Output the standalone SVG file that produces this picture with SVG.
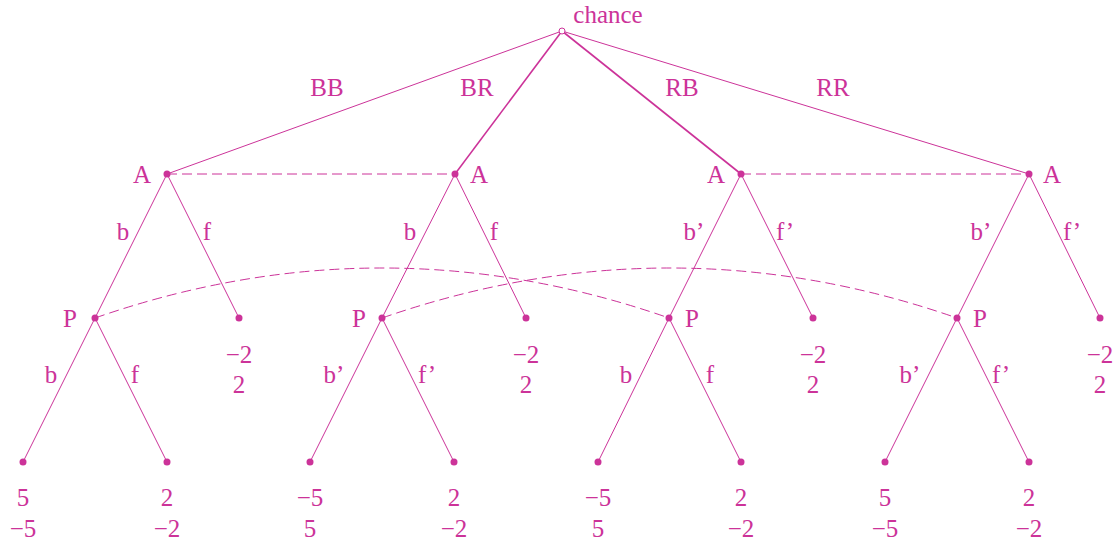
<svg xmlns="http://www.w3.org/2000/svg" width="1117" height="544" viewBox="0 0 1117 544">
<style>
.e{stroke:#cc3399;stroke-width:1;fill:none}
.t{stroke-width:1.6}
.d{stroke:#cc3399;stroke-width:1;fill:none;stroke-dasharray:10,5}
.n{fill:#cc3399}
text{font-family:"Liberation Serif","DejaVu Serif",serif;font-size:25px;fill:#cc3399;text-anchor:middle}
</style>
<rect width="1117" height="544" fill="#fff"/>
<g id="connectors">
<line class="e" x1="562" y1="31" x2="167" y2="174"/>
<line class="e t" x1="562" y1="31" x2="455" y2="174"/>
<line class="e t" x1="562" y1="31" x2="741" y2="174"/>
<line class="e" x1="562" y1="31" x2="1029" y2="174"/>
<line class="d" x1="167" y1="174" x2="455" y2="174"/>
<line class="d" x1="741" y1="174" x2="1029" y2="174"/>
<line class="e" x1="167" y1="174" x2="95" y2="318"/>
<line class="e" x1="167" y1="174" x2="239" y2="318"/>
<line class="e" x1="455" y1="174" x2="382" y2="318"/>
<line class="e" x1="455" y1="174" x2="526" y2="318"/>
<line class="e" x1="741" y1="174" x2="669" y2="318"/>
<line class="e" x1="741" y1="174" x2="813" y2="318"/>
<line class="e" x1="1029" y1="174" x2="957" y2="318"/>
<line class="e" x1="1029" y1="174" x2="1100" y2="318"/>
<path class="d" d="M95,318 Q382,218 669,318"/>
<path class="d" d="M382,318 Q670,218 957,318"/>
<line class="e" x1="95" y1="318" x2="23" y2="462"/>
<line class="e" x1="95" y1="318" x2="167" y2="462"/>
<line class="e" x1="382" y1="318" x2="310" y2="462"/>
<line class="e" x1="382" y1="318" x2="454" y2="462"/>
<line class="e" x1="669" y1="318" x2="598" y2="462"/>
<line class="e" x1="669" y1="318" x2="741" y2="462"/>
<line class="e" x1="957" y1="318" x2="885" y2="462"/>
<line class="e" x1="957" y1="318" x2="1029" y2="462"/>
<text x="327" y="96">BB</text>
<text x="477" y="96">BR</text>
<text x="682" y="96">RB</text>
<text x="833" y="96">RR</text>
<text x="123" y="240">b</text><text x="207" y="240">f</text>
<text x="410" y="240">b</text><text x="494" y="240">f</text>
<text x="694" y="240">b’</text><text x="785" y="240">f’</text>
<text x="981" y="240">b’</text><text x="1072" y="240">f’</text>
<text x="51" y="383">b</text><text x="135" y="383">f</text>
<text x="334" y="383">b’</text><text x="427" y="383">f’</text>
<text x="626" y="383">b</text><text x="710" y="383">f</text>
<text x="910" y="383">b’</text><text x="1001" y="383">f’</text>
</g>
<g id="chance"><circle cx="562" cy="31" r="3" fill="#fff" stroke="#cc3399" stroke-width="1"/><text x="608" y="23">chance</text></g>
<g id="A1"><circle class="n" cx="167" cy="174" r="3.5"/><text x="142" y="183">A</text></g>
<g id="A2"><circle class="n" cx="455" cy="174" r="3.5"/><text x="479" y="183">A</text></g>
<g id="A3"><circle class="n" cx="741" cy="174" r="3.5"/><text x="716" y="183">A</text></g>
<g id="A4"><circle class="n" cx="1029" cy="174" r="3.5"/><text x="1052" y="183">A</text></g>
<g id="P1"><circle class="n" cx="95" cy="318" r="3.5"/><text x="70" y="327">P</text></g>
<g id="P2"><circle class="n" cx="382" cy="318" r="3.5"/><text x="359" y="327">P</text></g>
<g id="P3"><circle class="n" cx="669" cy="318" r="3.5"/><text x="692" y="327">P</text></g>
<g id="P4"><circle class="n" cx="957" cy="318" r="3.5"/><text x="980" y="327">P</text></g>
<g id="F1"><circle class="n" cx="239" cy="318" r="3.5"/><text x="239" y="363">−2</text><text x="239" y="393">2</text></g>
<g id="F2"><circle class="n" cx="526" cy="318" r="3.5"/><text x="526" y="363">−2</text><text x="526" y="393">2</text></g>
<g id="F3"><circle class="n" cx="813" cy="318" r="3.5"/><text x="813" y="363">−2</text><text x="813" y="393">2</text></g>
<g id="F4"><circle class="n" cx="1100" cy="318" r="3.5"/><text x="1100" y="363">−2</text><text x="1100" y="393">2</text></g>
<g id="L1"><circle class="n" cx="23" cy="462" r="3.5"/><text x="23" y="506">5</text><text x="23" y="537">−5</text></g>
<g id="L2"><circle class="n" cx="167" cy="462" r="3.5"/><text x="167" y="506">2</text><text x="167" y="537">−2</text></g>
<g id="L3"><circle class="n" cx="310" cy="462" r="3.5"/><text x="310" y="506">−5</text><text x="310" y="537">5</text></g>
<g id="L4"><circle class="n" cx="454" cy="462" r="3.5"/><text x="454" y="506">2</text><text x="454" y="537">−2</text></g>
<g id="L5"><circle class="n" cx="598" cy="462" r="3.5"/><text x="598" y="506">−5</text><text x="598" y="537">5</text></g>
<g id="L6"><circle class="n" cx="741" cy="462" r="3.5"/><text x="741" y="506">2</text><text x="741" y="537">−2</text></g>
<g id="L7"><circle class="n" cx="885" cy="462" r="3.5"/><text x="885" y="506">5</text><text x="885" y="537">−5</text></g>
<g id="L8"><circle class="n" cx="1029" cy="462" r="3.5"/><text x="1029" y="506">2</text><text x="1029" y="537">−2</text></g>
</svg>
